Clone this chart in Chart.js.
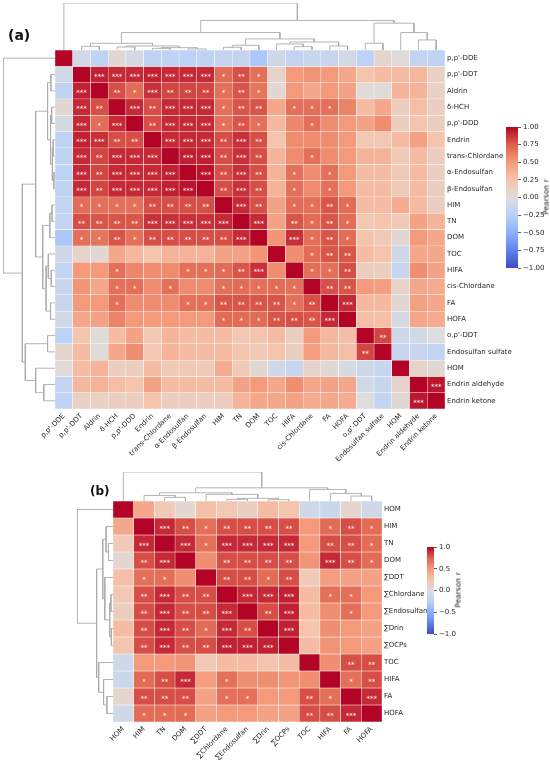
<!DOCTYPE html>
<html lang="en">
<head>
<meta charset="UTF-8" />
<title>Pearson correlation clustermaps</title>
<style>
    html, body {
        margin: 0;
        padding: 0;
        background: #fff;
    }
    body {
        width: 550px;
        height: 760px;
        position: relative;
        overflow: hidden;
        font-family: 'DejaVu Sans', sans-serif;
        color: #222;
    }
    canvas { position: absolute; background: transparent; }
    .tag {
        position: absolute;
        font-weight: bold;
        color: #111;
    }
    .cblabel {
        position: absolute;
        font-size: 7.5px;
        white-space: nowrap;
        color: #222;
        transform: translate(-50%, -50%) rotate(-90deg);
    }
</style>
<script src="https://cdn.jsdelivr.net/npm/chart.js@4"></script>
</head>
<body>
    <canvas id="heatA" width="550" height="440" style="left:0; top:40px;"></canvas>
    <canvas id="topDendA" width="390" height="47" style="left:55px; top:3px;"></canvas>
    <canvas id="leftDendA" width="52" height="359" style="left:3px; top:50px;"></canvas>
    <canvas id="cbA" width="44" height="155" style="left:506px; top:120px;"></canvas>

    <canvas id="heatB" width="550" height="270" style="left:0; top:490px;"></canvas>
    <canvas id="topDendB" width="269" height="29" style="left:113px; top:472px;"></canvas>
    <canvas id="leftDendB" width="36" height="221" style="left:77px; top:501px;"></canvas>
    <canvas id="cbB" width="40" height="101" style="left:427px; top:540px;"></canvas>

    <div class="tag" style="left:8px; top:27px; font-size:14px;">(a)</div>
    <div class="tag" style="left:90px; top:484px; font-size:12px;">(b)</div>
    <div class="cblabel" style="left:546px; top:197px;">Pearson r</div>
    <div class="cblabel" style="left:458px; top:590px;">Pearson r</div>

<script>
// ---- panel (a): variables in clustered order ----
const labelsA = ["p,p'-DDE", "p,p'-DDT", "Aldrin", "δ-HCH", "p,p'-DDD", "Endrin",
    "trans-Chlordane", "α-Endosulfan", "β-Endosulfan", "HIM", "TN", "DOM", "TOC", "HIFA",
    "cis-Chlordane", "FA", "HOFA", "o,p'-DDT", "Endosulfan sulfate", "HOM",
    "Endrin aldehyde", "Endrin ketone"];

// upper triangle of Pearson r, row i holds columns i+1 .. n-1
const rUpperA = [
    [-0.08, -0.2, 0.05, -0.06, -0.2, -0.2, -0.22, -0.2, -0.17, -0.17, -0.32, -0.1, -0.18, -0.13, -0.15, -0.08, -0.22, 0.08, 0.02, -0.18, -0.2],
    [0.92, 0.9, 0.9, 0.92, 0.9, 0.9, 0.9, 0.7, 0.8, 0.68, 0.1, 0.5, 0.52, 0.5, 0.42, 0.25, 0.3, 0.3, 0.32, 0.12],
    [0.8, 0.7, 0.88, 0.82, 0.82, 0.82, 0.68, 0.78, 0.66, 0.05, 0.5, 0.42, 0.5, 0.45, 0.02, 0.02, 0.35, 0.35, 0.12],
    [0.9, 0.8, 0.9, 0.9, 0.9, 0.68, 0.78, 0.78, 0.42, 0.68, 0.68, 0.68, 0.6, 0.3, 0.42, 0.15, 0.28, 0.15],
    [0.8, 0.9, 0.9, 0.9, 0.68, 0.78, 0.68, 0.32, 0.58, 0.68, 0.56, 0.5, 0.45, 0.55, 0.15, 0.25, 0.15],
    [0.9, 0.9, 0.9, 0.8, 0.88, 0.8, 0.25, 0.56, 0.56, 0.56, 0.5, 0.22, 0.22, 0.3, 0.45, 0.25],
    [0.93, 0.93, 0.8, 0.88, 0.8, 0.35, 0.56, 0.68, 0.56, 0.5, 0.35, 0.35, 0.2, 0.3, 0.15],
    [0.96, 0.8, 0.88, 0.8, 0.35, 0.68, 0.56, 0.68, 0.5, 0.3, 0.3, 0.2, 0.3, 0.15],
    [0.8, 0.88, 0.8, 0.35, 0.68, 0.56, 0.68, 0.5, 0.3, 0.3, 0.2, 0.3, 0.15],
    [0.9, 0.8, 0.45, 0.7, 0.68, 0.78, 0.7, 0.3, 0.3, 0.4, 0.3, 0.15],
    [0.9, 0.45, 0.78, 0.7, 0.78, 0.7, 0.22, 0.25, 0.2, 0.45, 0.35],
    [0.52, 0.88, 0.68, 0.78, 0.7, 0.25, 0.2, 0.05, 0.5, 0.42],
    [0.55, 0.7, 0.78, 0.78, 0.3, 0.25, -0.1, 0.42, 0.42],
    [0.68, 0.68, 0.8, 0.15, 0.15, -0.15, 0.55, 0.45],
    [0.8, 0.78, 0.5, 0.48, 0.1, 0.42, 0.4],
    [0.9, 0.32, 0.32, 0.05, 0.45, 0.42],
    [0.28, 0.28, -0.05, 0.42, 0.4],
    [0.82, -0.1, -0.08, 0.0],
    [-0.15, -0.15, -0.18],
    [0.1, 0.05],
    [0.95]
];

// significance stars (number of *), same upper-triangle layout
const starsUpperA = [
    "000000000000000000000",
    "33333331210000000000",
    "2132221210000000000",
    "323331220111000000",
    "23331210010000000",
    "3332320000000000",
    "332320010000000",
    "32320101000000",
    "2320101000000",
    "320112100000",
    "30212100000",
    "0312100000",
    "012200000",
    "11200000",
    "2200000",
    "300000",
    "00000",
    "2000",
    "000",
    "00",
    "3"
];

// dendrogram (a): [left node, right node, height]; nodes >= 22 are earlier merges
const mergesA = [
    [7, 8, 3], [5, 6, 5], [23, 22, 7], [3, 4, 9], [25, 24, 12], [1, 2, 11], [27, 26, 20],
    [9, 10, 8], [29, 11, 14], [13, 14, 10], [12, 31, 18], [15, 16, 12], [32, 33, 24],
    [30, 34, 33], [28, 35, 52], [17, 18, 20], [20, 21, 30], [19, 38, 52], [37, 39, 80],
    [36, 40, 88], [0, 41, 140]
];

// ---- panel (b) ----
const labelsB = ["HOM", "HIM", "TN", "DOM", "∑DDT", "∑Chlordane", "∑Endosulfan", "∑Drin",
    "∑OCPs", "TOC", "HIFA", "FA", "HOFA"];

const rUpperB = [
    [0.42, 0.2, 0.06, 0.28, 0.22, 0.15, 0.3, 0.25, -0.1, -0.12, 0.08, -0.1],
    [0.9, 0.8, 0.68, 0.8, 0.8, 0.8, 0.8, 0.5, 0.7, 0.8, 0.7],
    [0.9, 0.68, 0.9, 0.9, 0.9, 0.9, 0.5, 0.8, 0.8, 0.7],
    [0.55, 0.8, 0.8, 0.8, 0.8, 0.52, 0.9, 0.8, 0.7],
    [0.8, 0.8, 0.7, 0.8, 0.2, 0.48, 0.45, 0.45],
    [0.9, 0.9, 0.92, 0.3, 0.68, 0.68, 0.5],
    [0.8, 0.92, 0.3, 0.55, 0.68, 0.5],
    [0.92, 0.25, 0.55, 0.5, 0.45],
    [0.3, 0.52, 0.5, 0.45],
    [0.55, 0.8, 0.8],
    [0.68, 0.8],
    [0.9]
];

const starsUpperB = [
    "000000000000",
    "32122220121",
    "3133330221",
    "022220321",
    "22120000",
    "3330110",
    "230010",
    "30000",
    "0000",
    "022",
    "12",
    "3"
];

const mergesB = [
    [7, 8, 4], [5, 6, 5], [14, 13, 8], [4, 15, 20], [2, 3, 11], [1, 17, 17], [18, 16, 25],
    [11, 12, 15], [10, 20, 23], [9, 21, 35], [19, 22, 40], [0, 23, 88]
];

// colour bar ticks
const cbTicksA = [-1, -0.75, -0.5, -0.25, 0, 0.25, 0.5, 0.75, 1];
const cbTicksB = [-1, -0.5, 0, 0.5, 1];

// coolwarm anchors from -1 to 1
const coolwarm = [[59, 76, 192], [98, 130, 234], [141, 176, 254], [184, 208, 249], [221, 221, 221],
    [245, 196, 173], [244, 154, 123], [222, 96, 77], [180, 4, 38]];

const TXT = '#262626';
const LINE = '#ababab';

Chart.defaults.font.family = "'DejaVu Sans', sans-serif";
Chart.defaults.font.size = 7;
Chart.defaults.color = TXT;
Chart.defaults.animation = false;
Chart.defaults.events = [];
Chart.defaults.plugins.legend.display = false;
Chart.defaults.plugins.tooltip.enabled = false;

function cmap(v) {
    const t = Math.max(0, Math.min(1, (v + 1) / 2)) * (coolwarm.length - 1);
    const k = Math.min(Math.floor(t), coolwarm.length - 2);
    const f = t - k;
    const a = coolwarm[k], b = coolwarm[k + 1];
    const c = a.map((x, i) => Math.round(x + (b[i] - x) * f));
    return `rgb(${c[0]},${c[1]},${c[2]})`;
}

function mirror(upper, diag) {
    const n = upper.length + 1;
    const m = [];
    for (let i = 0; i < n; i++) {
        m.push([]);
        for (let j = 0; j < n; j++) {
            if (i === j) m[i].push(diag);
            else if (j > i) m[i].push(Number(upper[i][j - i - 1]));
            else m[i].push(Number(upper[j][i - j - 1]));
        }
    }
    return m;
}

const starPlugin = {
    id: 'stars',
    afterDatasetsDraw(chart) {
        const ctx = chart.ctx;
        ctx.save();
        ctx.fillStyle = '#fff';
        ctx.font = "7px 'DejaVu Sans'";
        ctx.textAlign = 'center';
        ctx.textBaseline = 'alphabetic';
        chart.data.datasets.forEach((ds, i) => {
            const meta = chart.getDatasetMeta(i);
            meta.data.forEach((bar, j) => {
                const n = ds.stars[j];
                if (!n) return;
                const cy = (bar.y + bar.base) / 2;
                ctx.fillText('*'.repeat(n), bar.x, cy + 4.2);
            });
        });
        ctx.restore();
    }
};

function makeHeatmap(id, labels, rUpper, starsUpper, padLeft, padTop, yWidth, xHeight) {
    const r = mirror(rUpper, 1);
    const st = mirror(starsUpper, 0);
    const n = labels.length;
    const datasets = labels.map((_, i) => ({
        data: labels.map(() => [i - 0.5, i + 0.5]),
        backgroundColor: r[i].map(cmap),
        borderColor: '#fff',
        borderWidth: 0.5,
        borderSkipped: false,
        grouped: false,
        categoryPercentage: 1,
        barPercentage: 1,
        stars: st[i]
    }));
    new Chart(document.getElementById(id), {
        type: 'bar',
        data: { labels: labels, datasets: datasets },
        options: {
            responsive: false,
            layout: { padding: { left: padLeft, top: padTop, right: 0, bottom: 0 } },
            scales: {
                x: {
                    grid: { display: false, drawTicks: false, tickLength: 0 },
                    border: { display: false },
                    ticks: { minRotation: 45, maxRotation: 45, autoSkip: false, padding: 3, color: TXT },
                    afterFit: s => { s.height = xHeight; }
                },
                y: {
                    type: 'linear',
                    position: 'right',
                    reverse: true,
                    min: -0.5,
                    max: n - 0.5,
                    grid: { display: false, drawTicks: false, tickLength: 0 },
                    border: { display: false },
                    afterBuildTicks: s => { s.ticks = labels.map((_, i) => ({ value: i })); },
                    ticks: { autoSkip: false, padding: 2, color: TXT, callback: v => labels[v] },
                    afterFit: s => { s.width = yWidth; }
                }
            }
        },
        plugins: [starPlugin]
    });
}

function dendroSegments(merges, n) {
    const pos = [], ht = [];
    for (let i = 0; i < n; i++) { pos.push(i); ht.push(0); }
    return merges.map(([a, b, h]) => {
        const seg = [[pos[a], ht[a]], [pos[a], h], [pos[b], h], [pos[b], ht[b]]];
        pos.push((pos[a] + pos[b]) / 2);
        ht.push(h);
        return seg;
    });
}

function makeDendro(id, merges, n, hMax, side) {
    const segs = dendroSegments(merges, n);
    const datasets = segs.map(seg => ({
        data: seg.map(([p, h]) => side === 'top' ? { x: p, y: h } : { x: h, y: p }),
        showLine: true,
        pointRadius: 0,
        borderColor: LINE,
        borderWidth: 0.9,
        clip: false
    }));
    const leafAxis = { type: 'linear', display: false, min: -0.5, max: n - 0.5 };
    const hAxis = { type: 'linear', display: false, min: 0, max: hMax };
    new Chart(document.getElementById(id), {
        type: 'scatter',
        data: { datasets: datasets },
        options: {
            responsive: false,
            layout: { padding: 0 },
            scales: side === 'top'
                ? { x: leafAxis, y: hAxis }
                : { x: Object.assign({}, hAxis, { reverse: true }), y: Object.assign({}, leafAxis, { reverse: true }) }
        }
    });
}

function makeColorbar(id, ticksArr, decimals, axisWidth) {
    new Chart(document.getElementById(id), {
        type: 'bar',
        data: {
            labels: [''],
            datasets: [{
                data: [[-1, 1]],
                borderWidth: 0,
                categoryPercentage: 1,
                barPercentage: 1,
                backgroundColor: c => {
                    const a = c.chart.chartArea;
                    if (!a) return '#ddd';
                    const g = c.chart.ctx.createLinearGradient(0, a.bottom, 0, a.top);
                    coolwarm.forEach((rgb, k) => g.addColorStop(k / (coolwarm.length - 1), `rgb(${rgb.join(',')})`));
                    return g;
                }
            }]
        },
        options: {
            responsive: false,
            layout: { padding: { top: 7, bottom: 7, left: 0, right: 0 } },
            scales: {
                x: { display: false },
                y: {
                    position: 'right',
                    min: -1,
                    max: 1,
                    border: { display: false },
                    grid: { drawOnChartArea: false, drawTicks: true, tickLength: 3, color: '#333', lineWidth: 0.8 },
                    afterBuildTicks: s => { s.ticks = ticksArr.map(v => ({ value: v })); },
                    ticks: {
                        padding: 2,
                        color: TXT,
                        callback: v => (v < 0 ? '\u2212' : '') + Math.abs(v).toFixed(decimals)
                    },
                    afterFit: s => { s.width = axisWidth; }
                }
            }
        }
    });
}

makeHeatmap('heatA', labelsA, rUpperA, starsUpperA, 55, 10, 105, 71);
makeDendro('topDendA', mergesA, labelsA.length, 140, 'top');
makeDendro('leftDendA', mergesA, labelsA.length, 140, 'left');
makeColorbar('cbA', cbTicksA, 2, 32);

makeHeatmap('heatB', labelsB, rUpperB, starsUpperB, 113, 11, 168, 38);
makeDendro('topDendB', mergesB, labelsB.length, 88, 'top');
makeDendro('leftDendB', mergesB, labelsB.length, 88, 'left');
makeColorbar('cbB', cbTicksB, 1, 33);
</script>
</body>
</html>
